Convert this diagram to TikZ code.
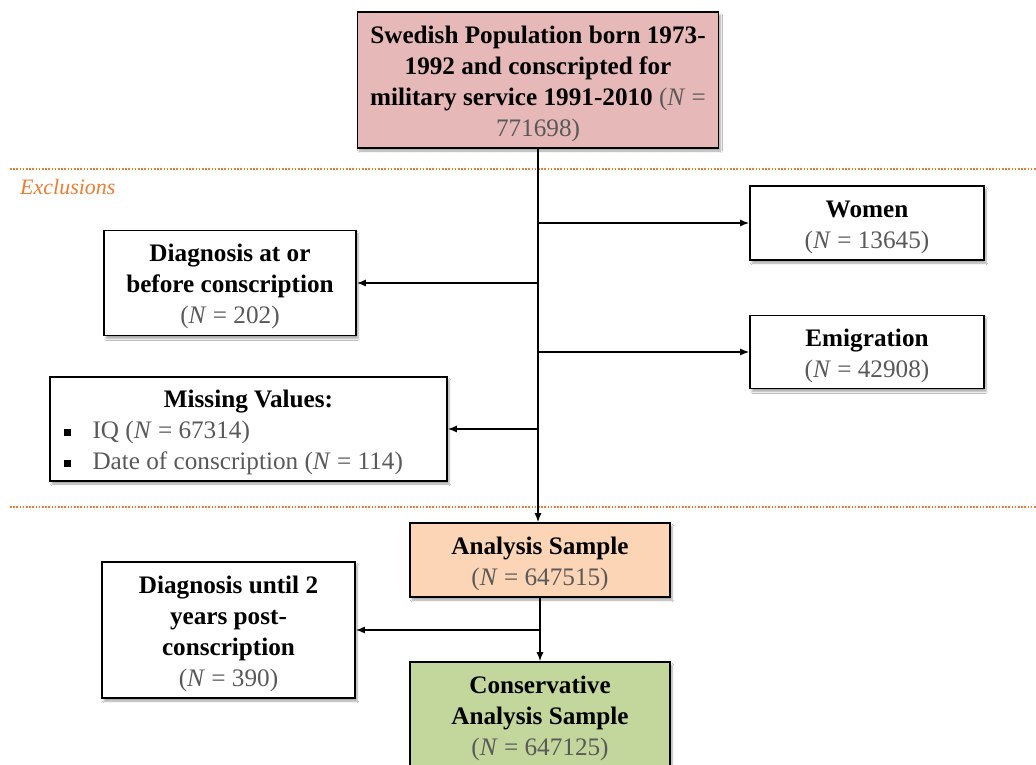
\documentclass[tikz,border=0pt]{standalone}
\usepackage{fontspec}
\setmainfont{Liberation Serif}
\usetikzlibrary{arrows.meta,shadows.blur}
\definecolor{pinkfill}{HTML}{E6B8B7}
\definecolor{peachfill}{HTML}{FBD5B5}
\definecolor{greenfill}{HTML}{C3D69B}
\definecolor{orng}{HTML}{ED7D31}
\definecolor{ngray}{HTML}{595959}
\newcommand{\Nval}[1]{{\color{ngray}(\textit{N} = #1)}}
\newcommand{\bulsq}{\hspace*{3pt}\raisebox{3pt}{\rule{7pt}{7pt}}\hspace{22pt}}
\newcommand{\tstrut}{\rule{0pt}{25pt}}
\begin{document}
\begin{tikzpicture}[x=1pt,y=-1pt,
  box/.style={draw=black, line width=1.6pt, fill=white, inner sep=0pt, align=center,
    font=\fontsize{25.2}{31}\selectfont,
    blur shadow={shadow xshift=2pt, shadow yshift=-3pt, shadow blur steps=6, shadow opacity=35}},
  arr/.style={line width=1.5pt, -{Latex[length=9pt,width=7pt]}},
  sepline/.style={orng, line width=1.6pt, dash pattern=on 1.6pt off 1.6pt}]
\clip (0,0) rectangle (1036,765);
\fill[white] (0,0) rectangle (1036,765);

% separators
\coordinate (s1a) at (10,169);
\coordinate (s1b) at (1036,169);
\coordinate (s2a) at (10,507);
\coordinate (s2b) at (1036,507);
\draw[sepline] (s1a) -- (s1b);
\draw[sepline] (s2a) -- (s2b);
\node[orng, anchor=west, inner sep=0pt, font=\fontsize{22}{26}\selectfont\itshape] (excl) at (20,187) {Exclusions};

% boxes
\node[box, fill=pinkfill, minimum width=361, minimum height=136] (top) at (538,80)
  {\tstrut\textbf{Swedish Population born 1973-}\\
   \textbf{1992 and conscripted for}\\
   \textbf{military service 1991-2010} {\color{ngray}(\textit{N} =}\\
   {\color{ngray}771698)}};

\node[box, minimum width=234, minimum height=74] (women) at (867,223)
  {\tstrut\textbf{Women}\\ \Nval{13645}};

\node[box, minimum width=252, minimum height=105] (diag1) at (230,283)
  {\tstrut\textbf{Diagnosis at or}\\ \textbf{before conscription}\\ \Nval{202}};

\node[box, minimum width=234, minimum height=73] (emig) at (867,352)
  {\tstrut\textbf{Emigration}\\ \Nval{42908}};

\node[box, minimum width=397, minimum height=104, align=left] (miss) at (248.5,429)
  {\tstrut\makebox[376pt][c]{\textbf{Missing Values:}}\\
   \bulsq{\color{ngray}IQ (\textit{N} = 67314)}\\
   \bulsq{\color{ngray}Date of conscription (\textit{N} = 114)}};

\node[box, fill=peachfill, minimum width=260, minimum height=74] (analysis) at (540,560)
  {\tstrut\textbf{Analysis Sample}\\ \Nval{647515}};

\node[box, minimum width=253, minimum height=136] (diag2) at (228.5,630)
  {\tstrut\textbf{Diagnosis until 2}\\ \textbf{years post-}\\ \textbf{conscription}\\ \Nval{390}};

\node[box, fill=greenfill, minimum width=260, minimum height=106] (cons) at (540,715)
  {\tstrut\textbf{Conservative}\\ \textbf{Analysis Sample}\\ \Nval{647125}};

% connectors
\draw[arr] (top.south) -- (top.south |- analysis.north);
\draw[arr] (top.south |- women.west) -- (women.west);
\draw[arr] (top.south |- diag1.east) -- (diag1.east);
\draw[arr] (top.south |- emig.west) -- (emig.west);
\draw[arr] (top.south |- miss.east) -- (miss.east);
\draw[arr] (analysis.south) -- (cons.north);
\draw[arr] (analysis.south |- diag2.east) -- (diag2.east);
\end{tikzpicture}
\end{document}
